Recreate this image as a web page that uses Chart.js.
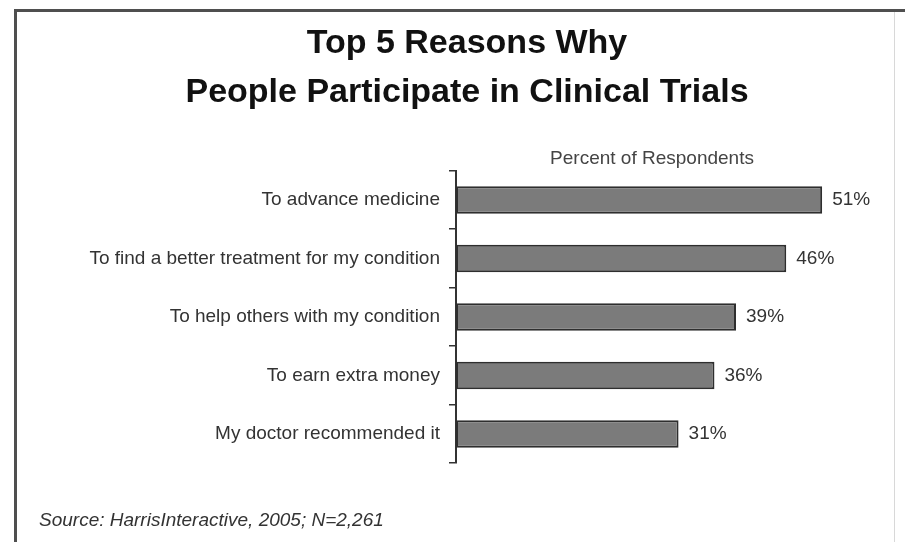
<!DOCTYPE html>
<html>
<head>
<meta charset="utf-8">
<script src="https://cdn.jsdelivr.net/npm/chart.js@4.4.1/dist/chart.umd.min.js"></script>
<style>
  html, body { margin: 0; padding: 0; background: #fff; }
  #wrap { position: relative; width: 905px; height: 542px; overflow: hidden; }
  .frame-top { position: absolute; left: 14px; top: 9px; width: 900px; height: 600px;
    border-left: 3px solid #4f4f4f; border-top: 3px solid #4f4f4f; pointer-events: none; }
  .frame-right { position: absolute; left: 894px; top: 12px; width: 1px; height: 540px;
    background: #d8d8d8; pointer-events: none; }
</style>
</head>
<body>
<div id="wrap">
  <canvas id="chart" width="905" height="542"></canvas>
  <div class="frame-top"></div>
  <div class="frame-right"></div>
</div>
<script>
// Data
const reasons = [
    'To advance medicine',
    'To find a better treatment for my condition',
    'To help others with my condition',
    'To earn extra money',
    'My doctor recommended it'
];
const percents = [51, 46, 39, 36, 31];
const titleLines = ['Top 5 Reasons Why', 'People Participate in Clinical Trials'];
const axisTitle = 'Percent of Respondents';
const sourceNote = 'Source: HarrisInteractive, 2005; N=2,261';

const FONT = "'Liberation Sans', Arial, sans-serif";

// Value labels at the bar ends
const valueLabels = {
    id: 'valueLabels',
    afterDatasetsDraw(chart) {
        const ctx = chart.ctx;
        const meta = chart.getDatasetMeta(0);
        ctx.save();
        ctx.font = '19px ' + FONT;
        ctx.fillStyle = '#333';
        ctx.textAlign = 'left';
        ctx.textBaseline = 'middle';
        meta.data.forEach((bar, i) => {
            ctx.fillText(percents[i] + '%', bar.x + 10, bar.y);
        });
        ctx.restore();
    }
};

const ctx = document.getElementById('chart').getContext('2d');
const chart = new Chart(ctx, {
    type: 'bar',
    data: {
        labels: reasons,
        datasets: [{
            data: percents,
            backgroundColor: '#7b7b7b',
            borderColor: '#2e2e2e',
            borderWidth: 2,
            borderSkipped: false,
            barPercentage: 0.47,
            categoryPercentage: 1
        }]
    },
    options: {
        indexAxis: 'y',
        responsive: false,
        animation: false,
        layout: { padding: { left: 39, right: 10, top: 0, bottom: 0 } },
        plugins: {
            legend: { display: false },
            tooltip: { enabled: false },
            title: {
                display: true,
                text: titleLines,
                color: '#111',
                font: { family: FONT, size: 34, weight: 'bold', lineHeight: 1.44 },
                padding: { top: 19, bottom: 22 }
            },
            subtitle: {
                display: true,
                position: 'bottom',
                align: 'start',
                text: sourceNote,
                color: '#333',
                font: { family: FONT, size: 19, style: 'italic', lineHeight: 1.2 },
                padding: { top: 46, bottom: 10 }
            }
        },
        scales: {
            x: {
                position: 'top',
                min: 0,
                max: 54.6,
                ticks: { display: false },
                grid: { display: false, drawTicks: false },
                border: { display: false },
                title: {
                    display: true,
                    text: axisTitle,
                    color: '#444',
                    font: { family: FONT, size: 19, lineHeight: 1.2 },
                    padding: { top: 8.5, bottom: 0.5 }
                }
            },
            y: {
                ticks: {
                    color: '#333',
                    font: { family: FONT, size: 19 },
                    padding: 9
                },
                grid: {
                    drawOnChartArea: false,
                    drawTicks: true,
                    tickLength: 7,
                    color: '#333',
                    lineWidth: 1.5
                },
                border: { display: true, color: '#333', width: 2 },
                afterFit(scale) { scale.width = 417; }
            },
            y2: {
                type: 'linear',
                position: 'right',
                ticks: { display: false },
                grid: { display: false, drawTicks: false },
                border: { display: false },
                afterFit(scale) { scale.width = 47; }
            }
        }
    },
    plugins: [valueLabels]
});
</script>
</body>
</html>
